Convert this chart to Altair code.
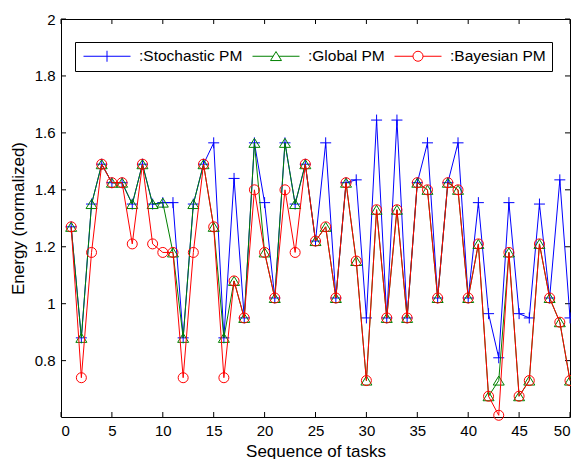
import altair as alt
import pandas as pd

FONT = "Liberation Sans"

tasks = list(range(1, 51))
stochastic = [1.27, 0.88, 1.35, 1.49, 1.425, 1.425, 1.35, 1.49, 1.35, 1.355,
              1.355, 0.88, 1.35, 1.49, 1.565, 0.88, 1.44, 0.95, 1.565, 1.355,
              1.02, 1.565, 1.35, 1.49, 1.22, 1.565, 1.02, 1.425, 1.435, 0.95,
              1.645, 0.95, 1.645, 0.95, 1.425, 1.565, 1.02, 1.425, 1.565, 1.02,
              1.355, 0.965, 0.81, 1.355, 0.965, 0.95, 1.35, 1.02, 1.435, 0.95]
global_pm = [1.27, 0.88, 1.35, 1.49, 1.425, 1.425, 1.35, 1.49, 1.35, 1.355,
             1.18, 0.88, 1.35, 1.49, 1.27, 0.88, 1.08, 0.95, 1.565, 1.18,
             1.02, 1.565, 1.35, 1.49, 1.22, 1.27, 1.02, 1.425, 1.15, 0.73,
             1.33, 0.95, 1.33, 0.95, 1.425, 1.40, 1.02, 1.425, 1.40, 1.02,
             1.21, 0.675, 0.73, 1.18, 0.675, 0.73, 1.21, 1.02, 0.935, 0.73]
bayesian = [1.27, 0.74, 1.18, 1.49, 1.425, 1.425, 1.21, 1.49, 1.21, 1.18,
            1.18, 0.74, 1.18, 1.49, 1.27, 0.74, 1.08, 0.95, 1.40, 1.18,
            1.02, 1.40, 1.18, 1.49, 1.22, 1.27, 1.02, 1.425, 1.15, 0.73,
            1.33, 0.95, 1.33, 0.95, 1.425, 1.40, 1.02, 1.425, 1.40, 1.02,
            1.21, 0.675, 0.608, 1.18, 0.675, 0.73, 1.21, 1.02, 0.935, 0.73]

series_names = ["Stochastic PM", "Global PM", "Bayesian PM"]
series_colors = ["#0000ff", "#008000", "#ff0000"]
x_tick_values = [0, 5, 10, 15, 20, 25, 30, 35, 40, 45, 50]
y_tick_values = [0.8, 1.0, 1.2, 1.4, 1.6, 1.8, 2.0]

rows = []
for name, vals in zip(series_names, [stochastic, global_pm, bayesian]):
    for t, v in zip(tasks, vals):
        rows.append({"task": t, "energy": v, "series": name})
df = pd.DataFrame(rows)
xt = pd.DataFrame({"task": x_tick_values})
yt = pd.DataFrame({"energy": y_tick_values})

W, H = 509, 398

# marker glyphs (unit square paths)
plus_path = "M-1,0H1M0,-1V1"
tri_path = "M0,-0.82L1,0.82L-1,0.82Z"
circ_path = "M0.91,0A0.91,0.91,0,1,1,-0.91,0A0.91,0.91,0,1,1,0.91,0Z"
marker_paths = [plus_path, tri_path, circ_path]

# legend glyphs: line sample with marker in the middle
leg_plus = "M-1,0H1M0,-0.234V0.234"
leg_tri = "M-1,0H-0.122M0.122,0H1M0,-0.2L0.234,0.183L-0.234,0.183Z"
leg_circ = ("M-1,0H-0.213M0.213,0H1M0.213,0A0.213,0.213,0,1,1,-0.213,0"
            "A0.213,0.213,0,1,1,0.213,0Z")

x_scale = alt.Scale(domain=[0, 50], nice=False, zero=False)
y_scale = alt.Scale(domain=[0.602, 2], nice=False, zero=False)
color_scale = alt.Scale(domain=series_names, range=series_colors)
leg_shape_scale = alt.Scale(domain=series_names, range=[leg_plus, leg_tri, leg_circ])

x_axis = alt.Axis(values=x_tick_values, title="Sequence of tasks", ticks=False, domain=False,
                  grid=False, labelPadding=6, titlePadding=5, format="d")
y_axis = alt.Axis(values=y_tick_values, title="Energy (normalized)", ticks=False, domain=False,
                  grid=False, labelPadding=6, titlePadding=7, format="~g")
X = alt.X("task:Q", scale=x_scale, axis=x_axis)
Y = alt.Y("energy:Q", scale=y_scale, axis=y_axis)

legend = alt.Legend(
    title=None, orient="none", legendX=14, legendY=23, direction="horizontal", columns=3,
    symbolSize=2209, symbolStrokeWidth=1, clipHeight=16, symbolFillColor="transparent",
    labelFont=FONT, labelFontSize=15.5, labelColor="black", labelOffset=8,
    symbolOffset=2, columnPadding=7, padding=6, strokeColor="black", fillColor="white",
    labelExpr="(datum.label == 'Global PM' ? '\u00a0:' : ':') + datum.label",
)

layers = []
# inward ticks on all four sides
layers.append(alt.Chart(xt).mark_rule(color="black", strokeWidth=1).encode(
    x=X, y=alt.value(H), y2=alt.value(H - 5)))
layers.append(alt.Chart(xt).mark_rule(color="black", strokeWidth=1).encode(
    x=X, y=alt.value(0), y2=alt.value(5)))
layers.append(alt.Chart(yt).mark_rule(color="black", strokeWidth=1).encode(
    y=Y, x=alt.value(0), x2=alt.value(5)))
layers.append(alt.Chart(yt).mark_rule(color="black", strokeWidth=1).encode(
    y=Y, x=alt.value(W), x2=alt.value(W - 5)))

for name, col, shp in zip(series_names, series_colors, marker_paths):
    base = alt.Chart(df).transform_filter(alt.datum.series == name)
    layers.append(base.mark_line(strokeWidth=1, color=col).encode(x=X, y=Y))
    layers.append(base.mark_point(filled=False, size=121, strokeWidth=1, opacity=1,
                                  color=col, shape=shp).encode(x=X, y=Y))

# legend carrier (no visible marks)
layers.append(alt.Chart(df).transform_filter("false").mark_point(filled=False, opacity=1).encode(
    x=X, y=Y,
    color=alt.Color("series:N", scale=color_scale, legend=legend),
    shape=alt.Shape("series:N", scale=leg_shape_scale, legend=legend),
))

chart = alt.layer(*layers).properties(
    width=W, height=H,
    autosize=alt.AutoSizeParams(type="none"),
    padding={"left": 53, "top": 11, "right": 1, "bottom": 42},
    background="white",
).configure_view(stroke="black", strokeWidth=1).configure_axis(
    labelFont=FONT, labelFontSize=15, labelColor="black",
    titleFont=FONT, titleFontSize=17, titleColor="black", titleFontWeight="normal",
)

chart.save("out.html", embed_options={"renderer": "svg", "actions": False})
